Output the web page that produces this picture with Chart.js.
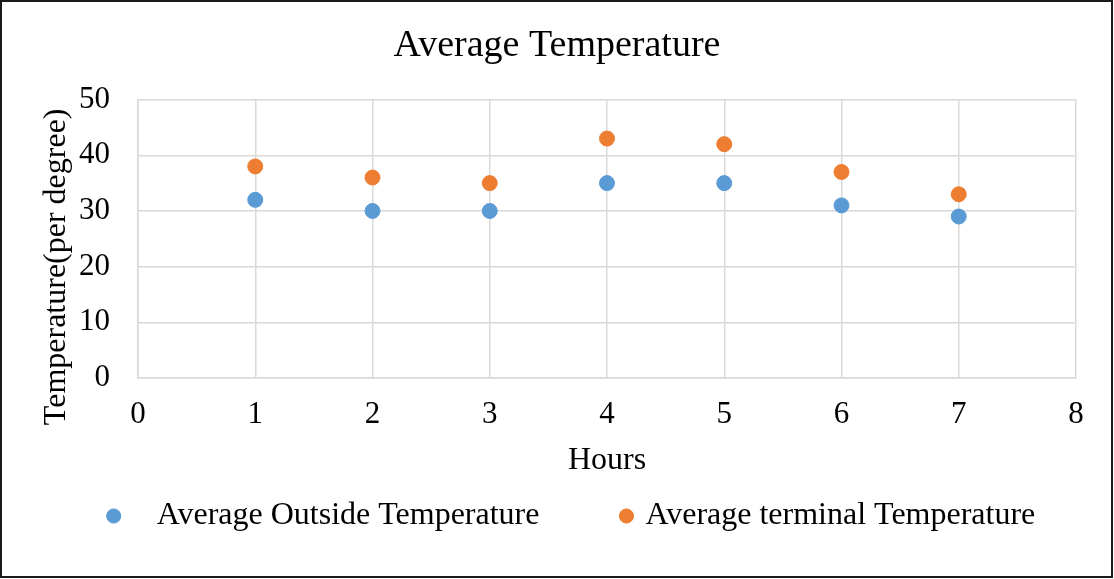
<!DOCTYPE html>
<html>
<head>
<meta charset="utf-8">
<script src="https://cdn.jsdelivr.net/npm/chart.js@4.4.0/dist/chart.umd.min.js"></script>
<style>
  html, body { margin: 0; padding: 0; background: #fff; }
  canvas { display: block; }
</style>
</head>
<body>
<canvas id="temp_chart" width="1114" height="579"></canvas>
<script>
// values
var hours = [1, 2, 3, 4, 5, 6, 7]
var outsideTemp = [32, 30, 30, 35, 35, 31, 29]
var terminalTemp = [38, 36, 35, 43, 42, 37, 33]
var yTicks = [0, 10, 20, 30, 40, 50]

var outsidePoints = hours.map((h, i) => ({ x: h, y: outsideTemp[i] }));
var terminalPoints = hours.map((h, i) => ({ x: h, y: terminalTemp[i] }));

var serif = "'Liberation Serif', 'Times New Roman', serif";
var gridColor = "#d9d9d9";

// black frame round the whole picture, legend nudged a bit right like the original
var framePlugin = {
  id: 'frame',
  beforeDraw: function (chart) {
    if (chart.legend && !chart.legend._nudged) {
      chart.legend.left += 16;
      chart.legend.right += 16;
      chart.legend._nudged = true;
    }
  },
  afterDraw: function (chart) {
    var ctx = chart.ctx;
    ctx.save();
    ctx.strokeStyle = "#1a1a1a";
    ctx.lineWidth = 2;
    ctx.strokeRect(1, 1, chart.width - 3, chart.height - 3);
    ctx.restore();
  }
};

Chart.defaults.font.family = serif;
Chart.defaults.color = "#000";

new Chart(document.getElementById("temp_chart"), {
  type: 'scatter',
  data: {
    datasets: [
      {
        label: "   Average Outside Temperature   ",
        data: outsidePoints,
        backgroundColor: "#5b9bd5",
        borderColor: "#5b9bd5",
        pointRadius: 7.5,
        pointHoverRadius: 7.5
      },
      {
        label: "Average terminal Temperature",
        data: terminalPoints,
        backgroundColor: "#ed7d31",
        borderColor: "#ed7d31",
        pointRadius: 7.5,
        pointHoverRadius: 7.5
      }
    ]
  },
  options: {
    responsive: false,
    animation: false,
    layout: { padding: { top: 0, left: 0, right: 0, bottom: 37 } },
    plugins: {
      title: {
        display: true,
        text: 'Average Temperature',
        font: { size: 38, weight: 'normal' },
        color: "#000",
        padding: { top: 23, bottom: 31 }
      },
      legend: {
        display: true,
        position: 'bottom',
        labels: {
          usePointStyle: true,
          pointStyle: 'circle',
          boxWidth: 6,
          boxHeight: 10,
          padding: 60,
          font: { size: 32 },
          color: "#000"
        }
      },
      tooltip: { enabled: false }
    },
    scales: {
      x: {
        type: 'linear',
        min: 0,
        max: 8,
        ticks: { stepSize: 1, padding: 18, font: { size: 31 }, color: "#000" },
        grid: { color: gridColor, lineWidth: 1.5, drawTicks: false },
        border: { color: gridColor, width: 1.5 },
        title: {
          display: true,
          text: 'Hours',
          font: { size: 32 },
          color: "#000",
          padding: { top: 0, bottom: -40 }
        },
        afterFit: function (scale) { scale.height = 62; }
      },
      y: {
        type: 'linear',
        min: 0,
        max: 50,
        afterBuildTicks: function (scale) { scale.ticks = yTicks.map(v => ({ value: v })); },
        ticks: { padding: 28, font: { size: 31 }, color: "#000" },
        grid: { color: gridColor, lineWidth: 1.5, drawTicks: false },
        border: { color: gridColor, width: 1.5 },
        title: {
          display: true,
          text: 'Temperature(per degree)       ',
          font: { size: 32 },
          color: "#000",
          padding: { top: 37, bottom: 0 }
        },
        afterFit: function (scale) { scale.width = 138; }
      },
      // empty axis on the right, only to keep the plot off the right edge
      yRight: {
        type: 'linear',
        position: 'right',
        display: true,
        ticks: { display: false },
        grid: { display: false, drawTicks: false },
        border: { display: false },
        afterFit: function (scale) { scale.width = 38; }
      }
    }
  },
  plugins: [framePlugin]
});
</script>
</body>
</html>
